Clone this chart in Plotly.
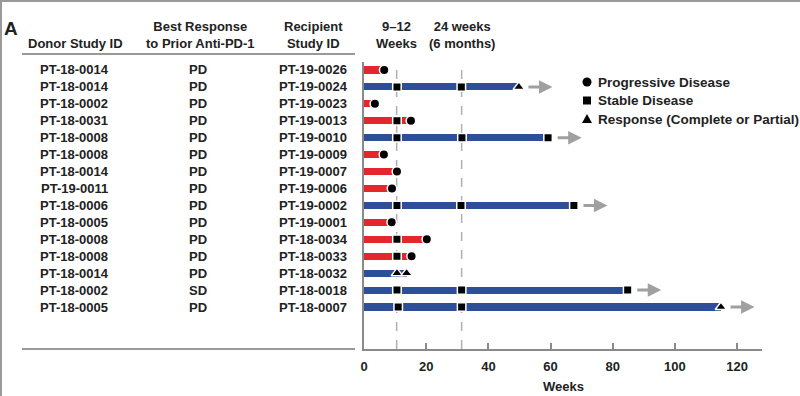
import plotly.graph_objects as go

# ---------------- data ----------------
donor_ids = ["PT-18-0014", "PT-18-0014", "PT-18-0002", "PT-18-0031", "PT-18-0008",
             "PT-18-0008", "PT-18-0014", "PT-19-0011", "PT-18-0006", "PT-18-0005",
             "PT-18-0008", "PT-18-0008", "PT-18-0014", "PT-18-0002", "PT-18-0005"]
prior_response = ["PD", "PD", "PD", "PD", "PD", "PD", "PD", "PD", "PD", "PD",
                  "PD", "PD", "PD", "SD", "PD"]
recipient_ids = ["PT-19-0026", "PT-19-0024", "PT-19-0023", "PT-19-0013", "PT-19-0010",
                 "PT-19-0009", "PT-19-0007", "PT-19-0006", "PT-19-0002", "PT-19-0001",
                 "PT-18-0034", "PT-18-0033", "PT-18-0032", "PT-18-0018", "PT-18-0007"]
benefit = [False, True, False, False, True, False, False, False, True, False,
           False, False, True, True, True]
duration_weeks = [6.5, 49.8, 3.5, 15.1, 59.2, 6.4, 10.6, 9.0, 67.5, 8.9,
                  20.2, 15.3, 13.7, 84.8, 114.8]
ongoing = [False, True, False, False, True, False, False, False, True, False,
           False, False, False, True, True]

# assessments: (row index, week)
pd_rows = [0, 2, 3, 5, 6, 7, 9, 10, 11]
pd_weeks = [6.5, 3.5, 15.1, 6.4, 10.6, 9.0, 8.9, 20.2, 15.3]
sd_rows = [1, 1, 3, 4, 4, 4, 8, 8, 8, 10, 11, 13, 13, 13, 14, 14]
sd_weeks = [10.6, 31.3, 10.6, 10.6, 31.5, 59.2, 10.6, 31.2, 67.5, 10.6, 10.6,
            10.6, 31.4, 84.8, 11.0, 31.4]
resp_rows = [1, 12, 12, 14]
resp_weeks = [49.8, 10.6, 13.7, 114.8]

legend_names = ["Progressive Disease", "Stable Disease", "Response (Complete or Partial)"]
milestone_weeks = [10.5, 31.4]
milestone_labels = ["9–12<br>Weeks", "24 weeks<br>(6 months)"]
x_ticks = [0, 20, 40, 60, 80, 100, 120]

# ---------------- styling ----------------
RED = "#E3272D"
BLUE = "#2D4F9A"
TXT = "#222222"
GRID = "#8a8a8a"
FONT = "Liberation Sans, Arial, sans-serif"

W, H = 800, 396
L, R, T, B = 364, 38, 62, 47
PW, PH = W - L - R, H - T - B


def xp(px):
    return (px - L) / PW


def yp(py):
    return (H - B - py) / PH


rows = list(range(len(donor_ids)))

fig = go.Figure()

fig.add_trace(go.Bar(
    orientation="h", y=rows, x=duration_weeks, base=0, width=0.42,
    marker=dict(color=[BLUE if b else RED for b in benefit], line=dict(width=0)),
    showlegend=False, hoverinfo="skip"))

mk_line = dict(color="white", width=1.5)
fig.add_trace(go.Scatter(
    x=pd_weeks, y=pd_rows, mode="markers", name=legend_names[0], showlegend=False,
    marker=dict(symbol="circle", size=9.5, color="black", line=mk_line)))
fig.add_trace(go.Scatter(
    x=sd_weeks, y=sd_rows, mode="markers", name=legend_names[1], showlegend=False,
    marker=dict(symbol="square", size=8.5, color="black", line=mk_line)))
fig.add_trace(go.Scatter(
    x=resp_weeks, y=resp_rows, mode="markers", name=legend_names[2], showlegend=False,
    marker=dict(symbol="triangle-up", size=10, color="black", line=mk_line)))

shapes = []
for mw in milestone_weeks:
    shapes.append(dict(type="line", xref="x", yref="paper", x0=mw, x1=mw, y0=0, y1=1,
                       line=dict(color="#b0b0b0", width=1.5, dash="dash"), layer="below"))
# table rules
shapes.append(dict(type="line", xref="paper", yref="paper", x0=xp(22), x1=xp(355),
                   y0=yp(54), y1=yp(54), line=dict(color="#777777", width=1.5)))
shapes.append(dict(type="line", xref="paper", yref="paper", x0=xp(22), x1=xp(355),
                   y0=yp(349), y1=yp(349), line=dict(color="#777777", width=1.5)))
# frame
shapes.append(dict(type="line", xref="paper", yref="paper", x0=xp(1), x1=xp(1),
                   y0=yp(0), y1=yp(396), line=dict(color="#9a9a9a", width=2)))
shapes.append(dict(type="line", xref="paper", yref="paper", x0=xp(0), x1=xp(800),
                   y0=yp(1), y1=yp(1), line=dict(color="#9a9a9a", width=2)))

# custom legend (symbol glyphs + labels)
leg_x, leg_y0, leg_dy = 587, 82, 18.5
glyph_common = dict(xref="paper", yref="paper", xsizemode="pixel", ysizemode="pixel",
                    fillcolor="black", line=dict(width=0))
shapes.append(dict(type="circle", xanchor=xp(leg_x), yanchor=yp(leg_y0),
                   x0=-4.5, x1=4.5, y0=-4.5, y1=4.5, **glyph_common))
shapes.append(dict(type="rect", xanchor=xp(leg_x), yanchor=yp(leg_y0 + leg_dy),
                   x0=-4, x1=4, y0=-4, y1=4, **glyph_common))
shapes.append(dict(type="path", xanchor=xp(leg_x), yanchor=yp(leg_y0 + 2 * leg_dy),
                   path="M -5,-4 L 5,-4 L 0,5 Z", **glyph_common))

ann = []
for k, name in enumerate(legend_names):
    ann.append(dict(xref="paper", yref="paper", x=xp(leg_x + 9), y=yp(leg_y0 + k * leg_dy),
                    text=f"<b>{name}</b>", showarrow=False, xanchor="left", yanchor="middle",
                    font=dict(size=13.5, color=TXT, family=FONT)))

col_x = [74, 198, 313]
for i in rows:
    for cx, txt in zip(col_x, [donor_ids[i], prior_response[i], recipient_ids[i]]):
        ann.append(dict(xref="paper", yref="y", x=xp(cx), y=i, text=f"<b>{txt}</b>",
                        showarrow=False, xanchor="center", yanchor="middle",
                        font=dict(size=13, color=TXT, family=FONT)))

headers = [(75, 43, "Donor Study ID"), (200, 35, "Best Response<br>to Prior Anti-PD-1"),
           (313, 35, "Recipient<br>Study ID")]
for cx, cy, txt in headers:
    ann.append(dict(xref="paper", yref="paper", x=xp(cx), y=yp(cy),
                    text="<b>" + txt.replace("<br>", "</b><br><b>") + "</b>",
                    showarrow=False, xanchor="center", yanchor="middle",
                    font=dict(size=13, color=TXT, family=FONT)))
for mw, lab in zip(milestone_weeks, milestone_labels):
    ann.append(dict(xref="x", yref="paper", x=mw, y=yp(35),
                    text="<b>" + lab.replace("<br>", "</b><br><b>") + "</b>",
                    showarrow=False, xanchor="center", yanchor="middle",
                    font=dict(size=13, color=TXT, family=FONT)))
ann.append(dict(xref="paper", yref="paper", x=xp(2), y=yp(28), text="<b>A</b>",
                showarrow=False, xanchor="left", yanchor="middle",
                font=dict(size=19, color=TXT, family=FONT)))
ann.append(dict(xref="x", yref="paper", x=64, y=yp(386), text="<b>Weeks</b>",
                showarrow=False, xanchor="center", yanchor="middle",
                font=dict(size=13, color=TXT, family=FONT)))

for i in rows:
    if ongoing[i]:
        ann.append(dict(xref="x", yref="y", axref="x", ayref="y",
                        x=duration_weeks[i] + 10.8, y=i,
                        ax=duration_weeks[i] + 2.6, ay=i,
                        text="", showarrow=True, arrowhead=2, arrowsize=0.9,
                        arrowwidth=3, arrowcolor="#a0a0a0"))

fig.update_layout(
    width=W, height=H, margin=dict(l=L, r=R, t=T, b=B, autoexpand=False),
    paper_bgcolor="white", plot_bgcolor="white",
    barmode="overlay", bargap=0, showlegend=False,
    font=dict(family=FONT, size=13, color=TXT),
    shapes=shapes, annotations=ann,
    xaxis=dict(range=[0, 128], tickvals=x_ticks,
               ticktext=[f"<b>{t}</b>" for t in x_ticks],
               ticks="inside", ticklen=6, tickwidth=1.5, tickcolor=GRID,
               showline=True, linecolor=GRID, linewidth=1.5, showgrid=False,
               zeroline=False, ticklabelstandoff=5, automargin=False,
               tickfont=dict(size=13, color=TXT, family=FONT)),
    yaxis=dict(range=[16.48, -0.47], showticklabels=False, showgrid=False,
               automargin=False,
               zeroline=False, showline=True, linecolor=GRID, linewidth=1.5, ticks=""),
)

fig.write_html("out.html", config={"displayModeBar": False},
               post_script="document.body.style.margin='0px';"
               "document.body.style.overflow='hidden';")
